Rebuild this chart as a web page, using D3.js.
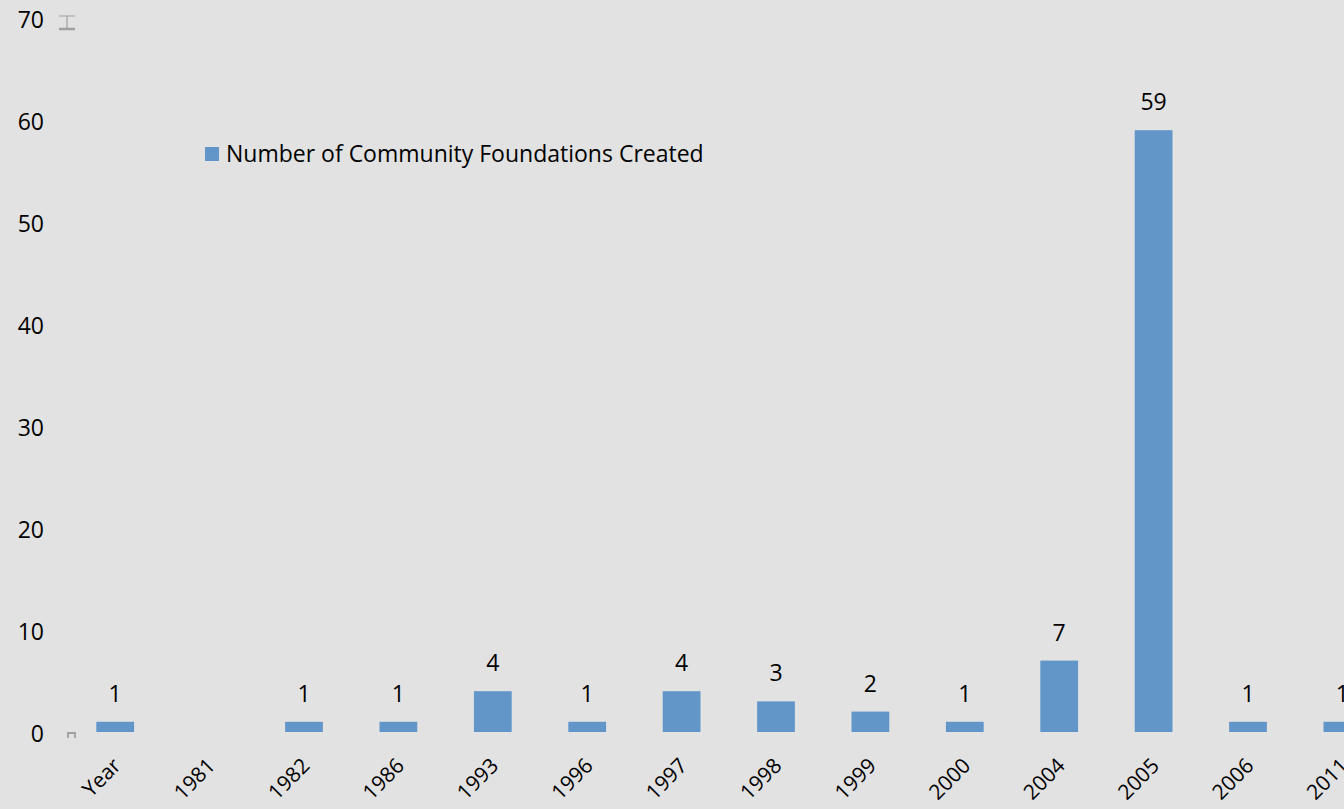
<!DOCTYPE html>
<html>
<head>
<meta charset="utf-8">
<script src="https://cdn.jsdelivr.net/npm/d3@7"></script>
<style>
body { margin: 0; background: #e2e2e2; }
svg { display: block; }
text { font-family: "Open Sans", Lato, sans-serif; fill: #000; }
</style>
</head>
<body>
<svg width="1344" height="809"></svg>
<script>
var categories = ["Year", "1981", "1982", "1986", "1993", "1996", "1997", "1998", "1999", "2000", "2004", "2005", "2006", "2011"];
var values = [1, null, 1, 1, 4, 1, 4, 3, 2, 1, 7, 59, 1, 1];
var yTicks = [0, 10, 20, 30, 40, 50, 60, 70];
var seriesName = "Number of Community Foundations Created";

var svg = d3.select("svg"),
    width = +svg.attr("width"),
    height = +svg.attr("height");

svg.append("rect")
    .attr("width", width)
    .attr("height", height)
    .attr("fill", "#e2e2e2");

var x = d3.scaleBand()
    .domain(categories)
    .range([68, 68 + 94.4 * categories.length])
    .paddingInner(0.6)
    .paddingOuter(0.3);

var y = d3.scaleLinear().domain([0, 70]).range([732, 18]);

var data = categories.map(function (c, i) { return {cat: c, value: values[i]}; });

// y labels
svg.append("g")
    .selectAll("text")
    .data(yTicks)
    .enter().append("text")
    .attr("x", 44)
    .attr("y", function (d) { return y(d); })
    .attr("dy", "0.42em")
    .attr("text-anchor", "end")
    .style("font-size", "23px")
    .text(function (d) { return d; });

// small axis glyphs
svg.append("path")
    .attr("d", "M59," + (y(70) - 2) + "H75M67," + (y(70) - 2) + "V" + (y(70) + 11))
    .attr("stroke", "#a0a0a0").attr("stroke-width", 1.2).attr("fill", "none");
svg.append("path")
    .attr("d", "M59," + (y(70) + 11) + "H75")
    .attr("stroke", "#a0a0a0").attr("stroke-width", 2.5).attr("fill", "none");
svg.append("path")
    .attr("d", "M68," + (y(0) + 6) + "V" + (y(0) + 1) + "H75V" + (y(0) + 6))
    .attr("stroke", "#a0a0a0").attr("stroke-width", 1.8).attr("fill", "none");

// bars
var bars = data.filter(function (d) { return d.value != null; });

svg.append("g")
    .selectAll("rect")
    .data(bars)
    .enter().append("rect")
    .attr("x", function (d) { return x(d.cat); })
    .attr("width", x.bandwidth())
    .attr("y", function (d) { return y(d.value); })
    .attr("height", function (d) { return y(0) - y(d.value); })
    .attr("fill", "#6296c9");

svg.append("g")
    .selectAll("text")
    .data(bars)
    .enter().append("text")
    .attr("x", function (d) { return x(d.cat) + x.bandwidth() / 2; })
    .attr("y", function (d) { return y(d.value) - 20; })
    .attr("text-anchor", "middle")
    .style("font-size", "23px")
    .text(function (d) { return d.value; });

// x labels
svg.append("g")
    .selectAll("text")
    .data(categories)
    .enter().append("text")
    .attr("transform", function (d) {
        return "translate(" + (x(d) + x.bandwidth() / 2 + 7) + ",767) rotate(-45)";
    })
    .attr("text-anchor", "end")
    .style("font-size", "21px")
    .text(function (d) { return d; });

// legend
var legend = svg.append("g").attr("transform", "translate(205,147)");
legend.append("rect")
    .attr("width", 14).attr("height", 14)
    .attr("fill", "#6296c9");
legend.append("text")
    .attr("x", 21)
    .attr("y", 7)
    .attr("dy", "0.36em")
    .style("font-size", "23px")
    .text(seriesName);
</script>
</body>
</html>
